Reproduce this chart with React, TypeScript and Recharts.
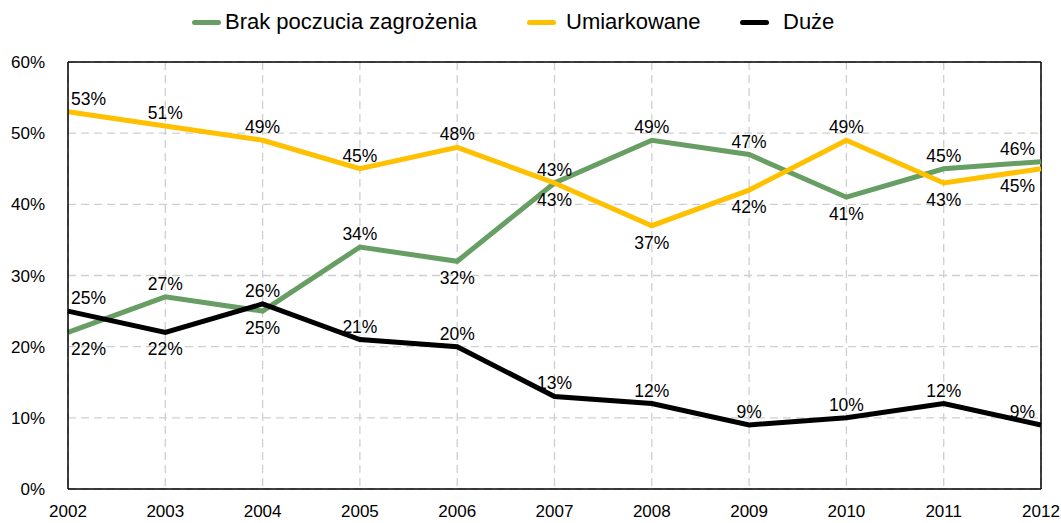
import { CartesianGrid, LabelList, Line, LineChart, ReferenceLine, XAxis, YAxis } from "recharts";

const years = ["2002", "2003", "2004", "2005", "2006", "2007", "2008", "2009", "2010", "2011", "2012"];
const brakValues = [22, 27, 25, 34, 32, 43, 49, 47, 41, 45, 46];
const umiarkowaneValues = [53, 51, 49, 45, 48, 43, 37, 42, 49, 43, 45];
const duzeValues = [25, 22, 26, 21, 20, 13, 12, 9, 10, 12, 9];
const yTicks = [0, 10, 20, 30, 40, 50, 60];

// label placement per point: "a" above, "b" below
const brakLabelSide = ["b", "a", "b", "a", "b", "a", "a", "a", "b", "a", "a"];
const umiarkowaneLabelSide = ["a", "a", "a", "a", "a", "b", "b", "b", "a", "b", "b"];
const duzeLabelSide = ["a", "b", "a", "a", "a", "a", "a", "a", "a", "a", "a"];

const series = [
  { key: "brak", name: "Brak poczucia zagrożenia", color: "#679E63", sides: brakLabelSide },
  { key: "umiarkowane", name: "Umiarkowane", color: "#FFC000", sides: umiarkowaneLabelSide },
  { key: "duze", name: "Duże", color: "#000000", sides: duzeLabelSide },
];

// legend item layout (icon left, gap before text)
const legendLeft = [192, 527, 740];
const legendGap = [4, 10, 14];

const data = years.map((year, i) => ({
  year,
  brak: brakValues[i],
  umiarkowane: umiarkowaneValues[i],
  duze: duzeValues[i],
}));

const FONT = "'Liberation Sans', Arial, sans-serif";

const makeLabel = (sides: string[]) => (props: any) => {
  const { x, y, value, index } = props;
  const last = index === years.length - 1;
  const anchor = index === 0 ? "start" : last ? "end" : "middle";
  const dx = index === 0 ? 3 : last ? -6 : 0;
  const dy = sides[index] === "a" ? -13 : 17;
  return (
    <text
      x={x + dx}
      y={y + dy}
      textAnchor={anchor}
      dominantBaseline="central"
      fontSize={17.5}
      fontFamily={FONT}
      fill="#000"
    >
      {`${value}%`}
    </text>
  );
};

export default function App() {
  return (
    <div style={{ position: "absolute", left: 0, top: 0, width: 1061, height: 523, background: "#fff" }}>
      {series.map((s, i) => (
        <div
          key={s.key}
          style={{
            position: "absolute",
            top: 9,
            left: legendLeft[i],
            height: 26,
            display: "flex",
            alignItems: "center",
            fontFamily: FONT,
            fontSize: 22,
            color: "#000",
            whiteSpace: "nowrap",
          }}
        >
          <span
            style={{
              display: "inline-block",
              width: 29,
              height: 5,
              borderRadius: 3,
              background: s.color,
              marginRight: legendGap[i],
            }}
          />
          <span>{s.name}</span>
        </div>
      ))}
      <LineChart width={1061} height={523} data={data} margin={{ top: 62, right: 20, bottom: 4, left: 8 }}>
        <CartesianGrid stroke="#CFCFCF" strokeDasharray="8 5" strokeWidth={1.3} />
        <XAxis
          dataKey="year"
          axisLine={{ stroke: "#000", strokeWidth: 1.5 }}
          tickLine={false}
          height={30}
          tick={{ fill: "#000", fontSize: 17, fontFamily: FONT }}
          tickMargin={10}
          interval={0}
        />
        <YAxis
          domain={[0, 60]}
          ticks={yTicks}
          width={60}
          axisLine={{ stroke: "#000", strokeWidth: 1.5 }}
          tickLine={false}
          tickFormatter={(v) => `${v}%`}
          tick={{ fill: "#000", fontSize: 17, fontFamily: FONT }}
          tickMargin={17}
        />
        <ReferenceLine y={60} stroke="#000" strokeWidth={1.5} />
        <ReferenceLine x="2012" stroke="#000" strokeWidth={1.5} />
        {series.map((s) => (
          <Line
            key={s.key}
            type="linear"
            dataKey={s.key}
            name={s.name}
            stroke={s.color}
            strokeWidth={5}
            dot={false}
            activeDot={false}
            isAnimationActive={false}
          >
            <LabelList dataKey={s.key} content={makeLabel(s.sides)} />
          </Line>
        ))}
      </LineChart>
    </div>
  );
}
